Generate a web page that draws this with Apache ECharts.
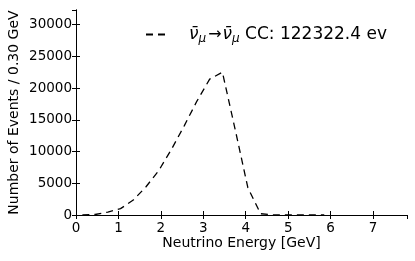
<!DOCTYPE html>
<html>
<head>
<meta charset="utf-8">
<script src="https://cdn.jsdelivr.net/npm/echarts@6/dist/echarts.min.js"></script>
<style>
html,body{margin:0;padding:0;background:#fff;}
#c{width:415px;height:261px;}
</style>
</head>
<body>
<div id="c"></div>
<script>
var energies = [0.15, 0.45, 0.75, 1.05, 1.35, 1.65, 1.95, 2.25, 2.55, 2.85, 3.15, 3.45, 3.75, 4.05, 4.35, 4.65, 4.95, 5.25, 5.55, 5.85];
var events = [20, 80, 450, 1000, 2350, 4450, 7000, 10350, 14050, 17950, 21400, 22500, 13500, 4300, 200, 0, 0, 0, 0, 0];
var seriesName = 'ν̄μ→ν̄μ CC: 122322.4 ev';
var xLabel = 'Neutrino Energy [GeV]';
var yLabel = 'Number of Events / 0.30 GeV';

var FONT = 'DejaVu Sans';
var chart = echarts.init(document.getElementById('c'), null, {renderer: 'canvas'});
var pts = energies.map(function (e, i) { return [e, events[i]]; });

var axisCommon = {
  axisLine: {show: true, lineStyle: {color: '#000', width: 1}},
  axisTick: {show: true, inside: true, length: 4, lineStyle: {color: '#000', width: 1}},
  splitLine: {show: false}
};

chart.setOption({
  animation: false,
  backgroundColor: '#fff',
  grid: {left: 76, right: 8, top: 10, bottom: 46, containLabel: false, outerBoundsMode: 'none'},
  legend: {
    left: 140, top: 21,
    itemWidth: 24, itemHeight: 14, itemGap: 0,
    data: [seriesName],
    itemStyle: {color: 'rgba(0,0,0,0)', borderWidth: 0, opacity: 0},
    formatter: function () {
      return '{n|ν̄}{s|μ}{a|→}{n|ν̄}{s|μ}{t| CC: 122322.4 ev}';
    },
    textStyle: {
      fontFamily: FONT, fontSize: 17, color: '#000', padding: [0, 0, 0, 14],
      rich: {
        n: {fontFamily: FONT, fontSize: 17, fontStyle: 'italic', color: '#000'},
        s: {fontFamily: FONT, fontSize: 12, fontStyle: 'italic', color: '#000', padding: [8, 0, 0, 0]},
        a: {fontFamily: FONT, fontSize: 16, color: '#000', padding: [0, 1, 0, 2]},
        t: {fontFamily: FONT, fontSize: 17, color: '#000'}
      }
    }
  },
  xAxis: [
    Object.assign({}, axisCommon, {
      type: 'value', min: 0, max: 7.8, interval: 1, position: 'bottom',
      axisLabel: {show: true, showMaxLabel: false, margin: 6, color: '#000', fontFamily: FONT, fontSize: 13.5},
      name: xLabel, nameLocation: 'middle', nameGap: 21, nameMoveOverlap: false,
      nameTextStyle: {color: '#000', fontFamily: FONT, fontSize: 14, verticalAlign: 'top'}
    }),
    Object.assign({}, axisCommon, {
      type: 'value', min: 0, max: 7.8, interval: 1, position: 'top',
      axisLabel: {show: false}
    })
  ],
  yAxis: [
    Object.assign({}, axisCommon, {
      type: 'value', min: 0, max: 32300, interval: 5000, position: 'left',
      axisLabel: {show: true, showMaxLabel: false, margin: 4, color: '#000', fontFamily: FONT, fontSize: 13.5,
        formatter: function (v) { return String(v); }},
      name: yLabel, nameLocation: 'middle', nameGap: 55, nameMoveOverlap: false,
      nameTextStyle: {color: '#000', fontFamily: FONT, fontSize: 14}
    }),
    Object.assign({}, axisCommon, {
      type: 'value', min: 0, max: 32300, interval: 5000, position: 'right',
      axisLabel: {show: false}
    })
  ],
  series: [{
    name: seriesName,
    type: 'line',
    data: pts,
    symbol: 'none',
    lineStyle: {color: '#000', width: 1.3, type: [7, 5]},
    itemStyle: {color: '#000'}
  }]
});
</script>
</body>
</html>
